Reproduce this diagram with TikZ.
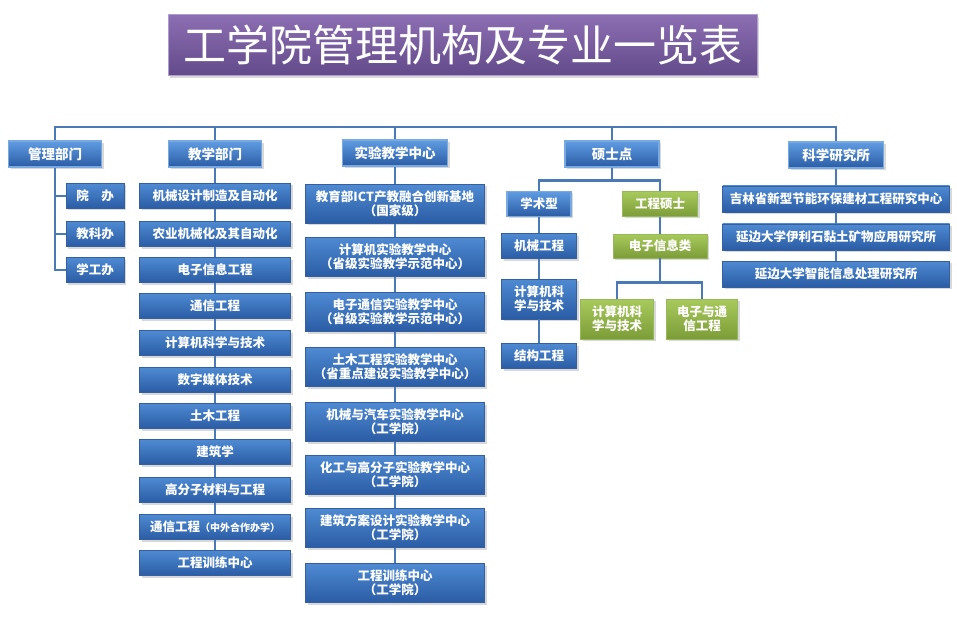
\documentclass[tikz,border=0pt]{standalone}
\usepackage{fontspec}
\setmainfont{Noto Sans CJK SC}
\usetikzlibrary{shadows}

\definecolor{boxtop}{RGB}{78,138,210}
\definecolor{boxbot}{RGB}{42,92,164}
\definecolor{boxedge}{RGB}{50,96,160}
\definecolor{hdrtop}{RGB}{96,156,226}
\definecolor{hdredge}{RGB}{120,170,225}
\definecolor{greentop}{RGB}{168,202,92}
\definecolor{greenbot}{RGB}{124,156,56}
\definecolor{greenedge}{RGB}{150,186,90}
\definecolor{titletop}{RGB}{140,110,178}
\definecolor{titlebot}{RGB}{98,74,138}
\definecolor{titleedge}{RGB}{176,156,206}
\definecolor{linec}{RGB}{74,122,182}

\begin{document}
\begin{tikzpicture}[x=1pt,y=-1pt,
	box/.style={rectangle,inner sep=0pt,align=center,text=white,
		font=\bfseries\fontsize{12.5}{14}\selectfont,
		top color=boxtop,bottom color=boxbot,draw=boxedge,line width=0.6pt,
		drop shadow={opacity=0.3,shadow xshift=2pt,shadow yshift=-2pt}},
	hdr/.style={box,minimum width=93,minimum height=26,top color=hdrtop,draw=hdredge,line width=1.2pt,
		font=\bfseries\fontsize{13.5}{15}\selectfont},
	unit/.style={box,minimum width=151,minimum height=25},
	labbox/.style={box,minimum width=179,minimum height=39},
	greenbox/.style={box,top color=greentop,bottom color=greenbot,draw=greenedge},
	link/.style={-,line width=2.5pt,color=linec}]
	\fill[white] (0,0) rectangle (957,620);
	\useasboundingbox (0,0) rectangle (957,620);
	% title
	\node[box,minimum width=589,minimum height=61,top color=titletop,bottom color=titlebot,draw=titleedge,line width=1pt,
		font=\fontsize{43}{46}\selectfont] (title) at (462.5,45.5){工学院管理机构及专业一览表};
	% main parts
	\coordinate (bus) at (0,127);
	\node[hdr] (mgmt) at (55,154){管理部门};
	\node[hdr] (teach) at (215,154){教学部门};
	\node[hdr,minimum width=105] (lab) at (395,153){实验教学中心};
	\node[hdr,minimum width=94] (master) at (612,154){硕士点};
	\node[hdr,minimum width=95] (research) at (836,155){科学研究所};
	% management
	\node[box,minimum width=58,minimum height=25] (office) at (95,196){院\hspace{1em}办};
	\node[box,minimum width=58,minimum height=25] (edu) at (95,234){教科办};
	\node[box,minimum width=58,minimum height=25] (stud) at (95,270){学工办};
	% teaching
	\node[unit] (t1) at (215,196){机械设计制造及自动化};
	\node[unit] (t2) at (215,234){农业机械化及其自动化};
	\node[unit] (t3) at (215,270){电子信息工程};
	\node[unit] (t4) at (215,306){通信工程};
	\node[unit] (t5) at (215,343){计算机科学与技术};
	\node[unit] (t6) at (215,380){数字媒体技术};
	\node[unit] (t7) at (215,416){土木工程};
	\node[unit] (t8) at (215,452){建筑学};
	\node[unit] (t9) at (215,490){高分子材料与工程};
	\node[unit] (t10) at (215,527){通信工程{\fontsize{10}{12}\selectfont（中外合作办学）}};
	\node[unit] (t11) at (215,563){工程训练中心};
	% laboratories
	\node[labbox] (l1) at (395,204){教育部ICT产教融合创新基地\\（国家级）};
	\node[labbox] (l2) at (395,257){计算机实验教学中心\\（省级实验教学示范中心）};
	\node[labbox] (l3) at (395,312){电子通信实验教学中心\\（省级实验教学示范中心）};
	\node[labbox] (l4) at (395,367){土木工程实验教学中心\\（省重点建设实验教学中心）};
	\node[labbox] (l5) at (395,422){机械与汽车实验教学中心\\（工学院）};
	\node[labbox] (l6) at (395,475){化工与高分子实验教学中心\\（工学院）};
	\node[labbox] (l7) at (395,528){建筑方案设计实验教学中心\\（工学院）};
	\node[labbox] (l8) at (395,583){工程训练中心\\（工学院）};
	% master programmes
	\node[hdr,minimum width=64,minimum height=25,font=\bfseries\fontsize{12.5}{14}\selectfont] (acad) at (539,204){学术型};
	\node[greenbox,minimum width=75,minimum height=25,line width=1.2pt] (prof) at (660,204){工程硕士};
	\node[box,minimum width=75,minimum height=25] (a1) at (539,246){机械工程};
	\node[box,minimum width=75,minimum height=40] (a2) at (539,299){计算机科\\学与技术};
	\node[box,minimum width=75,minimum height=25] (a3) at (539,356){结构工程};
	\node[greenbox,minimum width=94,minimum height=24] (ee) at (660,246){电子信息类};
	\node[greenbox,minimum width=73,minimum height=40] (cs) at (617,319){计算机科\\学与技术};
	\node[greenbox,minimum width=71,minimum height=40] (ec) at (702,319){电子与通\\信工程};
	% research
	\node[box,minimum width=227,minimum height=26] (r1) at (836,199){吉林省新型节能环保建材工程研究中心};
	\node[box,minimum width=227,minimum height=26] (r2) at (836,237){延边大学伊利石黏土矿物应用研究所};
	\node[box,minimum width=227,minimum height=26] (r3) at (836,274){延边大学智能信息处理研究所};
	% connectors
	\draw[link] (mgmt.north) |- (bus -| research.north) -- (research.north);
	\draw[link] (teach.north) -- (teach.north |- bus);
	\draw[link] (lab.north) -- (lab.north |- bus);
	\draw[link] (master.north) -- (master.north |- bus);
	\draw[link] (mgmt.south) |- (stud.west);
	\draw[link] (mgmt.south |- office.west) -- (office.west);
	\draw[link] (mgmt.south |- edu.west) -- (edu.west);
	\draw (teach) edge[link] (t1); \draw (t1) edge[link] (t2); \draw (t2) edge[link] (t3);
	\draw (t3) edge[link] (t4); \draw (t4) edge[link] (t5); \draw (t5) edge[link] (t6);
	\draw (t6) edge[link] (t7); \draw (t7) edge[link] (t8); \draw (t8) edge[link] (t9);
	\draw (t9) edge[link] (t10); \draw (t10) edge[link] (t11);
	\draw (lab) edge[link] (l1); \draw (l1) edge[link] (l2); \draw (l2) edge[link] (l3);
	\draw (l3) edge[link] (l4); \draw (l4) edge[link] (l5); \draw (l5) edge[link] (l6);
	\draw (l6) edge[link] (l7); \draw (l7) edge[link] (l8);
	\draw[link] (master.south) -- ++(0,13) -| (acad.north);
	\draw[link] (master.south) -- ++(0,13) -| (prof.north);
	\draw (acad) edge[link] (a1); \draw (a1) edge[link] (a2); \draw (a2) edge[link] (a3);
	\draw (prof) edge[link] (ee);
	\draw[link] (ee.south) -- ++(0,24) -| (cs.north);
	\draw[link] (ee.south) -- ++(0,24) -| (ec.north);
	\draw (research) edge[link] (r1); \draw (r1) edge[link] (r2); \draw (r2) edge[link] (r3);
\end{tikzpicture}
\end{document}
